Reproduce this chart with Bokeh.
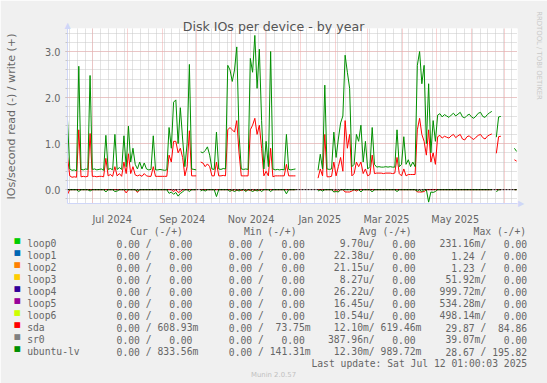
import math
import numpy as np
import pandas as pd
from bokeh.plotting import figure
from bokeh.models import Range1d, FixedTicker, Grid, PrintfTickFormatter, Span
from bokeh.embed import file_html
from bokeh.resources import INLINE
from bokeh.core.properties import value

nan = float("nan")

# ---------------- data ----------------
start = "2024-06-08 10:00"
end = "2025-07-12 04:00"
step_days = 2

lv_write = [
    1.52, 0.45, 0.42, 0.43, 0.41, 2.68, 0.44, 0.43, 0.45, 0.44,
    2.48, 0.44, 0.45, 0.43, 0.44, 0.45, 0.42, 1.18, 0.44, 0.46,
    0.43, 1.20, 0.44, 0.48, 0.44, 1.17, 0.50, 1.38, 0.60, 0.90,
    0.55, 0.45, 0.60, 0.45, 0.58, 0.45, 0.43, 0.44, 1.17, 0.43,
    0.43, 0.44, 0.43, 0.42, 0.43, 1.35, 0.90, 1.90, 1.95, 1.00,
    1.78, 1.10, 0.50, 1.00, 2.72, 0.45, 0.44, 0.43, nan, 0.82,
    0.80, 0.85, 0.93, 0.75, 0.45, 0.44, 1.25, 0.45, 0.44, 0.46,
    0.45, 2.70, 2.60, 2.35, 2.60, 3.10, 1.20, 0.45, 0.44, 0.45,
    0.44, 2.85, 2.55, 3.35, 2.20, 3.05, 1.50, 0.45, 1.05, 0.50,
    3.00, 0.45, 0.43, 0.44, 0.43, 0.44, 0.43, 1.20, 0.44, 0.43,
    0.44, 0.45, nan, nan, nan, nan, nan, nan, nan, nan,
    nan, 0.42, 0.77, 0.45, 2.27, 0.45, 0.44, 0.45, 1.25, 0.70,
    1.10, 1.45, 1.60, 2.92, 2.55, 2.20, 0.50, 0.55, 1.20, 1.05,
    1.40, 0.60, 1.05, 0.45, 0.50, 1.35, 0.55, 0.49, 0.50, 0.49,
    0.49, 0.50, 0.49, 0.50, 0.49, 0.49, 1.30, 0.50, 0.55, 1.15,
    0.55, 0.65, 0.50, 0.60, 0.50, 2.70, 3.00, 2.30, 2.70, 1.00,
    2.30, 0.80, 1.50, 1.05, 1.62, 1.65, 1.58, 1.63, 1.60, 1.57,
    1.62, 1.66, 1.60, 1.64, 1.68, 1.58, 1.56, 1.61, 1.64, 1.58,
    1.55, 1.60, 1.66, 1.68, 1.59, 1.57, 1.63, 1.67, 1.70, nan,
    1.14, 1.58, 1.59, nan, nan, nan, nan, nan, 0.90, 0.83,
]

sda_write = [
    0.72, 0.30, 0.27, 0.28, 0.27, 1.30, 0.28, 0.29, 0.28, 0.29,
    1.22, 0.29, 0.29, 0.28, 0.29, 0.29, 0.28, 0.68, 0.30, 0.33,
    0.29, 0.50, 0.30, 0.35, 0.29, 0.60, 0.35, 0.78, 0.35, 0.50,
    0.32, 0.30, 0.32, 0.29, 0.35, 0.30, 0.29, 0.29, 0.50, 0.29,
    0.29, 0.29, 0.29, 0.29, 0.29, 0.75, 0.60, 1.05, 1.05, 0.80,
    0.90, 0.70, 0.30, 0.50, 1.28, 0.30, 0.30, 0.30, nan, 0.60,
    0.58, 0.50, 0.56, 0.50, 0.30, 0.30, 0.60, 0.30, 0.30, 0.31,
    0.30, 1.30, 1.35, 1.30, 1.25, 1.50, 0.80, 0.30, 0.30, 0.30,
    0.30, 1.30, 1.40, 1.55, 1.20, 1.40, 0.90, 0.30, 0.40, 0.30,
    0.90, 0.28, 0.30, 0.30, 0.30, 0.30, 0.30, 0.55, 0.30, 0.30,
    0.30, 0.30, nan, nan, nan, nan, nan, nan, nan, nan,
    nan, 0.25, 0.45, 0.30, 1.20, 0.28, 0.28, 0.29, 0.60, 0.30,
    0.50, 0.70, 0.40, 1.50, 0.90, 1.20, 0.30, 0.35, 0.60, 0.50,
    0.60, 0.35, 0.45, 0.30, 0.33, 0.75, 0.35, 0.36, 0.36, 0.36,
    0.35, 0.36, 0.36, 0.36, 0.35, 0.36, 0.70, 0.35, 0.30, 0.45,
    0.30, 0.33, 0.33, 0.33, 0.33, 1.30, 1.55, 1.20, 1.05, 0.75,
    1.30, 0.60, 0.80, 0.55, 1.15, 1.18, 1.12, 1.16, 1.14, 1.12,
    1.17, 1.20, 1.13, 1.17, 1.20, 1.10, 1.08, 1.15, 1.17, 1.12,
    1.09, 1.14, 1.18, 1.20, 1.13, 1.10, 1.16, 1.19, 1.21, nan,
    0.79, 1.15, 1.16, nan, nan, nan, nan, nan, 0.65, 0.62,
]

# reads (drawn below zero): sample index -> value
lv_read_idx = [5, 10, 17, 21, 22, 31, 45, 46, 47, 48, 49, 50, 51, 54, 59, 61, 66,
               72, 74, 76, 79, 82, 84, 86, 90, 97, 111, 113, 118, 119, 120, 130,
               135, 146, 155, 157, 160, 161, 162, 163, 190]
lv_read_val = [0.04, 0.03, 0.05, 0.04, 0.03, 0.03, 0.08, 0.05, 0.10, 0.06, 0.14,
               0.08, 0.05, 0.04, 0.03, 0.03, 0.15, 0.04, 0.05, 0.03, 0.04, 0.05,
               0.03, 0.04, 0.04, 0.09, 0.03, 0.03, 0.05, 0.04, 0.05, 0.05, 0.05,
               0.04, 0.03, 0.04, 0.27, 0.05, 0.06, 0.04, 0.05]
sda_read_idx = [0, 26, 31, 47, 49, 50, 73, 75, 77, 79, 81, 83, 85, 118, 120, 123,
                124, 125, 126, 128, 155, 156, 157, 158]
sda_read_val = [0.10, 0.07, 0.06, 0.04, 0.06, 0.04, 0.02, 0.02, 0.02, 0.02, 0.02,
                0.02, 0.02, 0.04, 0.04, 0.05, 0.05, 0.05, 0.03, 0.03, 0.05, 0.05,
                0.05, 0.04]

y_ticks = [0, 1, 2, 3]
x_tick_labels = ["Jul 2024", "Sep 2024", "Nov 2024", "Jan 2025", "Mar 2025", "May 2025"]
x_tick_months = ["2024-07-01", "2024-09-01", "2024-11-01", "2025-01-01", "2025-03-01", "2025-05-01"]

names = ["loop0", "loop1", "loop2", "loop3", "loop4", "loop5", "loop6", "sda", "sr0", "ubuntu-lv"]
colors = ["#00CC00", "#0066B3", "#FF8000", "#FFCC00", "#330099", "#990099", "#CCFF00",
          "#FF0000", "#808080", "#008F00"]
cur_read = ["0.00"] * 10
cur_write = ["0.00"] * 7 + ["608.93m", "0.00", "833.56m"]
min_read = ["0.00"] * 10
min_write = ["0.00"] * 7 + ["73.75m", "0.00", "141.31m"]
avg_read = ["9.70u", "22.38u", "21.15u", "8.27u", "26.22u", "16.45u", "10.54u",
            "12.10m", "387.96n", "12.30m"]
avg_write = ["0.00"] * 7 + ["619.46m", "0.00", "989.72m"]
max_read = ["231.16m", "1.24", "1.23", "51.92m", "999.72m", "534.28m", "498.14m",
            "29.87", "39.07m", "28.67"]
max_write = ["0.00"] * 7 + ["84.86", "0.00", "195.82"]
headers = ["Cur (-/+)", "Min (-/+)", "Avg (-/+)", "Max (-/+)"]
title = "Disk IOs per device - by year"
y_label = "IOs/second read (-) / write (+)"
last_update = "Last update: Sat Jul 12 01:00:03 2025"
munin_ver = "Munin 2.0.57"
watermark = "RRDTOOL / TOBI OETIKER"

# ---------------- build series ----------------
n = len(lv_write)
t = pd.Timestamp(start) + pd.to_timedelta(np.arange(n) * step_days, unit="D")
lvw = np.array(lv_write, dtype=float)
sdw = np.array(sda_write, dtype=float)
lvr = np.where(np.isnan(lvw), nan, 0.0)
sdr = np.where(np.isnan(sdw), nan, 0.0)
lvr[lv_read_idx] = lv_read_val
sdr[sda_read_idx] = sda_read_val

FONT = "#666666"
W, H = 547, 383
# plot frame (page pixels): left 67, right 517, top 28, bottom 203
p = figure(width=W, height=H, x_axis_type="datetime",
           x_range=Range1d(pd.Timestamp(start), pd.Timestamp(end)),
           y_range=Range1d(-0.3, 3.5),
           output_backend="svg", toolbar_location=None,
           min_border_left=67, min_border_right=30, min_border_top=28, min_border_bottom=180,
           background_fill_color="white", border_fill_color="#f0f0f0",
           outline_line_color=None)
p.xgrid.visible = False
p.ygrid.visible = False
# page-pixel coordinate system for the decorations around the frame
p.extra_x_ranges = {"px": Range1d(67, 517)}
p.extra_y_ranges = {"py": Range1d(203, 28)}
PX = dict(x_range_name="px", y_range_name="py", level="overlay")

def ms(ts):
    return pd.Timestamp(ts).value / 1e6

mondays = [ms(d) for d in pd.date_range("2024-06-03", "2025-07-14", freq="W-MON")]
month_starts = [ms(d) for d in pd.date_range("2024-06-01", "2025-08-01", freq="MS")]
minor_y = [round(-0.2 + 0.2 * k, 1) for k in range(19)]
GRAY = "#c6c6c6"
RED = "#f0a8a8"
p.add_layout(Grid(dimension=0, ticker=FixedTicker(ticks=mondays),
                  grid_line_color=GRAY, grid_line_dash="1 1"))
p.add_layout(Grid(dimension=1, ticker=FixedTicker(ticks=minor_y),
                  grid_line_color=GRAY, grid_line_dash="1 1"))
p.add_layout(Grid(dimension=0, ticker=FixedTicker(ticks=month_starts),
                  grid_line_color=RED, grid_line_dash="1 1"))
p.add_layout(Grid(dimension=1, ticker=FixedTicker(ticks=y_ticks),
                  grid_line_color=RED, grid_line_dash="1 1"))

# series
p.line(t, -sdr, line_color="#FF0000", line_width=1)
p.line(t, sdw, line_color="#FF0000", line_width=1)
p.line(t, -lvr, line_color="#008F00", line_width=1)
p.line(t, lvw, line_color="#008F00", line_width=1)
p.add_layout(Span(location=0, dimension="width", line_color="black", line_width=1,
                  line_dash="2 1"))

# axes
label_pos = [ms(pd.Timestamp(m) + pd.Timedelta(days=17)) for m in x_tick_months]
xa = p.xaxis[0]
xa.ticker = FixedTicker(ticks=label_pos)
xa.major_label_overrides = dict(zip(label_pos, x_tick_labels))
xa.axis_line_color = "#CFD6F8"
xa.major_tick_line_color = None
xa.minor_tick_line_color = None
xa.major_label_standoff = 4
xa.major_label_text_font = "DejaVu Sans"
xa.major_label_text_font_size = "9.7px"
xa.major_label_text_color = FONT

ya = p.yaxis[0]
ya.ticker = FixedTicker(ticks=y_ticks, minor_ticks=minor_y)
ya.formatter = PrintfTickFormatter(format="%.1f")
ya.axis_line_color = "#CFD6F8"
ya.major_tick_out = 2
ya.major_tick_in = 0
ya.major_tick_line_color = RED
ya.minor_tick_out = 2
ya.minor_tick_in = 0
ya.minor_tick_line_color = GRAY
ya.major_label_standoff = 5
ya.major_label_text_font = "DejaVu Sans"
ya.major_label_text_font_size = "9.7px"
ya.major_label_text_color = FONT

sans = value("DejaVu Sans")
# axis arrow heads
ARROW = "#CFD6F8"
p.text(x=[520.5], y=[203], text=["\u25B6"], text_align="center", text_baseline="middle",
       text_font=sans, text_font_size="8px", text_color=ARROW, **PX)
p.text(x=[67], y=[25], text=["\u25B2"], text_align="center", text_baseline="middle",
       text_font=sans, text_font_size="8px", text_color=ARROW, **PX)

# title, unit label, watermark
p.text(x=[273], y=[25.5], text=[title], text_align="center", text_baseline="alphabetic",
       text_font=sans, text_font_size="12.6px", text_color="#555555", **PX)
p.text(x=[10.8], y=[116], text=[y_label], angle=math.pi / 2, text_align="center",
       text_baseline="middle", text_font=sans, text_font_size="11.1px",
       text_color=FONT, **PX)
p.text(x=[538], y=[55], text=[watermark], angle=-math.pi / 2, text_align="center",
       text_baseline="middle", text_font=sans, text_font_size="6.9px",
       text_color="#c8c8c8", **PX)

# ---------------- legend table ----------------
cw = 0.602 * 9.7
col_R = [139.4, 251.7, 362.5, 474.1]
head_x = [129.8, 243.5, 358.7, 473.1]
row_base = [243 + 12 * k for k in range(len(names))]

rx, ry, rt = [], [], []
lx, ly, lt = [], [], []
cols = [(cur_read, cur_write), (min_read, min_write), (avg_read, avg_write), (max_read, max_write)]
for k in range(len(names)):
    yb = row_base[k]
    for c, (rd, wr) in enumerate(cols):
        R = col_R[c]
        Wc = R + 9 * cw
        s = rd[k]
        rx.append(R + (cw if s[-1].isalpha() else 0)); ry.append(yb); rt.append(s)
        s = wr[k]
        rx.append(Wc + (cw if s[-1].isalpha() else 0)); ry.append(yb); rt.append(s)
        lx.append(R + cw); ly.append(yb); lt.append("/")
    lx.append(26.7); ly.append(yb); lt.append(names[k])
for c, h in enumerate(headers):
    lx.append(head_x[c]); ly.append(231); lt.append(h)
rx.append(526.7); ry.append(363); rt.append(last_update)

mono = dict(text_font=value("DejaVu Sans Mono"), text_font_size="9.7px",
            text_color=FONT, text_baseline="alphabetic")
p.text(x=rx, y=ry, text=rt, text_align="right", **mono, **PX)
p.text(x=lx, y=ly, text=lt, text_align="left", **mono, **PX)
# legend colour boxes
p.text(x=[16.7] * len(names), y=[b - 3.0 for b in row_base], text=["\u25A0"] * len(names),
       text_align="center", text_baseline="middle", text_font=sans, text_font_size="7.5px",
       text_color=colors, **PX)
p.text(x=[273], y=[374], text=[munin_ver], text_align="center",
       text_baseline="alphabetic", text_font=sans, text_font_size="6.9px",
       text_color="#c0c0c0", **PX)

open("out.html", "w").write(file_html(p, INLINE))
